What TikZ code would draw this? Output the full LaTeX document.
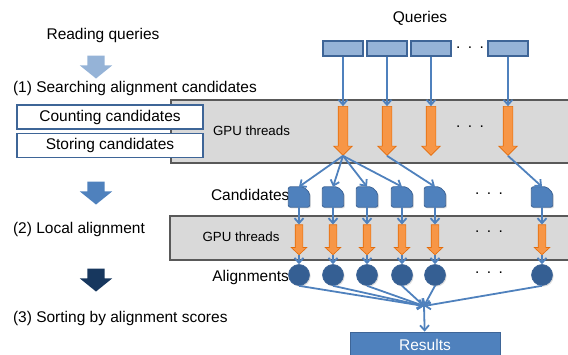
\documentclass[tikz,border=0pt]{standalone}
\usepackage{fontspec}
\setmainfont{Liberation Sans}
\usetikzlibrary{shapes.arrows,shadows,arrows.meta,positioning}

\definecolor{qblue}{HTML}{95B3D7}
\definecolor{mblue}{HTML}{4F81BD}
\definecolor{bline}{HTML}{3E6597}
\definecolor{dblue}{HTML}{17375E}
\definecolor{cblue}{HTML}{355F93}
\definecolor{orng}{HTML}{F79646}
\definecolor{orngline}{HTML}{E46C0A}
\definecolor{bandgray}{HTML}{D9D9D9}
\definecolor{bandline}{HTML}{595959}

\newcommand{\tdots}{.\hspace{7.5pt}.\hspace{7.5pt}.}

\begin{document}
\begin{tikzpicture}[x=1pt,y=-1pt,>={Straight Barb[length=5pt,width=9pt]},
  font=\fontsize{15.5}{18}\selectfont,
  flow/.style={->,draw=mblue,line width=1.8pt},
  shad/.style={drop shadow={opacity=0.25,shadow xshift=1.2pt,shadow yshift=-1.2pt}},
  bandbox/.style={draw=bandline,fill=bandgray,line width=1.5pt,shad,inner sep=0pt},
  gpu/.style={font=\fontsize{13.3}{16}\selectfont},
  stepbox/.style={draw=bline,fill=white,line width=1.2pt,minimum width=186,minimum height=24,inner sep=0pt},
  qbox/.style={draw=bline,fill=qblue,line width=1.4pt,minimum width=40,minimum height=15,inner sep=0pt,shad},
  cand/.style={minimum width=21,minimum height=20,inner sep=0pt},
  candfill/.style={draw=bline,fill=mblue,line width=0.8pt,rounded corners=2pt,shad},
  algn/.style={circle,draw=bline,fill=cblue,line width=0.6pt,minimum size=21,inner sep=0pt,shad},
  tarrow/.style={single arrow,rotate=-90,draw=orngline,fill=orng,line width=0.6pt,
    inner xsep=0pt,minimum width=0pt},
  larrow/.style={single arrow,rotate=-90,inner xsep=0pt,inner ysep=8.5pt,minimum width=0pt,
    minimum height=23,single arrow head extend=7.5pt,single arrow tip angle=102},
  res/.style={draw=bline,fill=mblue,text=white,line width=0.8pt,minimum width=150,minimum height=25,inner sep=0pt}]
  \useasboundingbox (0,0) rectangle (568,355);

  % GPU thread bands
  \node[bandbox,minimum width=430,minimum height=63] (band1) at (386,131.5) {};
  \node[bandbox,minimum width=430,minimum height=44] (band2) at (385,238) {};
  \node[gpu] (gpu1) at (251.5,131) {GPU threads};
  \node[gpu] (gpu2) at (241,237) {GPU threads};

  % left column: the steps
  \node (read) at (103,35) {Reading queries};
  \node[larrow,fill=qblue] (s0) at (96,63.5) {};
  \node[anchor=west] (srch) at (9.5,88) {(1) Searching alignment candidates};
  \node[stepbox] (count) at (110,117) {Counting candidates};
  \node[stepbox] (store) at (110,145.5) {Storing candidates};
  \node[larrow,fill=mblue] (s2) at (96,189.5) {};
  \node[anchor=west] (local) at (9.5,229) {(2) Local alignment};
  \node[larrow,fill=dblue] (s3) at (96,276.5) {};
  \node[anchor=west] (sort) at (9.5,318) {(3) Sorting by alignment scores};

  % queries and first kernel
  \node (queries) at (420,18) {Queries};
  \foreach \i/\x in {1/343,2/387,3/431,4/508}{
    \node[qbox] (q\i) at (\x,48.5) {};
    \node[tarrow,minimum height=49,inner ysep=4.5pt,single arrow head extend=4.5pt,
      single arrow tip angle=90] (t\i) at (\x,128.5) {};
    \draw[flow] (q\i) -- (t\i.tail);
  }
  \node (qdots) at (470,48) {\tdots};
  \node (tdots1) at (470,127) {\tdots};

  % candidates, second kernel, alignments
  \node[anchor=east] (candlab) at (293,195) {Candidates};
  \node[anchor=east] (alnlab) at (292.5,277) {Alignments};
  \foreach \i/\x in {1/299,2/333,3/367,4/402,5/435,6/542}{
    \node[cand] (c\i) at (\x,197) {};
    \filldraw[candfill] (c\i.south west) -- (c\i.north west) -- ([xshift=-6pt]c\i.north east)
      -- ([yshift=-6pt]c\i.north east) -- (c\i.south east) -- cycle;
    \node[tarrow,minimum height=30,inner ysep=3.5pt,single arrow head extend=4pt,
      single arrow tip angle=94] (u\i) at (\x,238) {};
    \node[algn] (a\i) at (\x,275) {};
    \draw[flow] (c\i) -- (u\i.tail);
    \draw[flow] (u\i.tip) -- (a\i);
  }
  \node (cdots) at (489,194) {\tdots};
  \node (tdots2) at (489,232) {\tdots};
  \node (adots) at (489,273) {\tdots};

  \foreach \i in {1,...,4}
    \draw[flow] (t1.tip) -- (c\i.north);
  \draw[flow] (t2.tip) -- (c5.north);
  \draw[flow] (t4.tip) -- (c6.north);

  % gathering the results
  \coordinate (m) at (424,306);
  \node[res] (result) at (425,344.5) {Results};
  \foreach \i in {1,...,6}
    \draw[flow] (a\i.south) -- (m);
  \draw[flow] (m) -- (result);
\end{tikzpicture}
\end{document}
